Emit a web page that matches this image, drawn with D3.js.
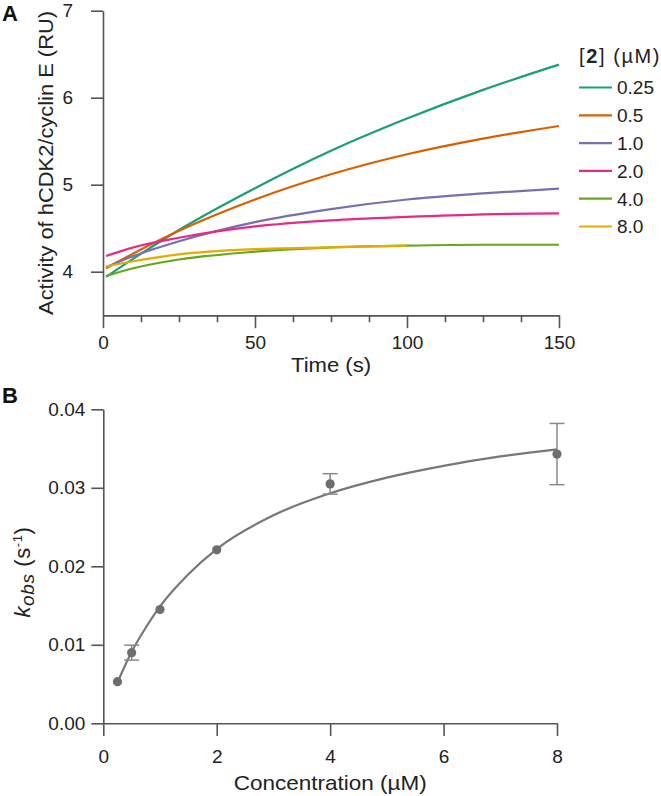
<!DOCTYPE html>
<html>
<head>
<meta charset="utf-8">
<script src="https://cdn.jsdelivr.net/npm/d3@7"></script>
<style>
  body { margin: 0; background: #fff; }
  svg { font-family: "Liberation Sans", Arial, Helvetica, sans-serif; }
  .axis path, .axis line { stroke: #555; stroke-width: 1.6; }
  .axis text { fill: #222; font-size: 19px; }
</style>
</head>
<body>
<div id="chart"></div>
<script>
// ----------------------------------------------
// DATA
// ----------------------------------------------
// panel A: time courses for each [2]
const concLabels = ["0.25", "0.5", "1.0", "2.0", "4.0", "8.0"];
const seriesColors = ["#1b9e77", "#d95f02", "#7570b3", "#e7298a", "#66a61e", "#e6ab02"];
const timePoints = [1, 10, 25, 50, 75, 100, 125, 150];
const act025 = [3.94, 4.15, 4.48, 4.96, 5.39, 5.76, 6.09, 6.38];
const act05 = [4.04, 4.21, 4.47, 4.83, 5.12, 5.35, 5.53, 5.675];
const act1 = [4.05, 4.18, 4.35, 4.57, 4.72, 4.83, 4.90, 4.955];
const act2 = [4.18, 4.28, 4.39, 4.52, 4.59, 4.63, 4.66, 4.67];
const act4 = [3.95, 4.04, 4.14, 4.23, 4.28, 4.30, 4.31, 4.31];
const act8 = [4.06, 4.12, 4.20, 4.26, 4.28, 4.30]; // stops at t = 100
const timeTicks = [0, 50, 100, 150];
const timeMinorTicks = [12.5, 25, 37.5, 62.5, 75, 87.5, 112.5, 125, 137.5];
const activityTicks = [4, 5, 6, 7];

// panel B: kobs vs concentration
const concPoints = [0.25, 0.5, 1, 2, 4, 8];
const kobsValues = [0.0053, 0.0090, 0.0145, 0.0221, 0.0305, 0.0343];
const kobsErrors = [0, 0.00095, 0, 0, 0.0013, 0.0039];
const fitConc = [0.25, 0.5, 0.75, 1, 1.5, 2, 3, 4, 5, 6, 7, 8];
const fitKobs = [0.0052, 0.0091, 0.0122, 0.0149, 0.0190, 0.0222, 0.0265, 0.0293, 0.0313, 0.0328, 0.0340, 0.0349];
const concTicks = [0, 2, 4, 6, 8];
const kobsTicks = [0, 0.01, 0.02, 0.03, 0.04];

// ----------------------------------------------
// SVG
// ----------------------------------------------
const svg = d3.select("#chart").append("svg")
  .attr("width", 661)
  .attr("height", 796);

// ----------------------------------------------
// PANEL A
// ----------------------------------------------
const xA = d3.scaleLinear().domain([0, 150]).range([103, 559]);
const yA = d3.scaleLinear().domain([3.5, 7]).range([315.2, 10.7]);

svg.append("g").attr("class", "axis")
  .attr("transform", `translate(0,${yA(3.5)})`)
  .call(d3.axisBottom(xA).tickValues(timeMinorTicks).tickSize(7).tickSizeOuter(0).tickFormat(""));

svg.append("g").attr("class", "axis")
  .attr("transform", `translate(0,${yA(3.5)})`)
  .call(d3.axisBottom(xA).tickValues(timeTicks).tickSize(13).tickSizeOuter(0).tickPadding(7).tickFormat(d3.format("d")));

svg.append("g").attr("class", "axis")
  .attr("transform", `translate(${xA(0)},0)`)
  .call(d3.axisLeft(yA).tickValues(activityTicks).tickSize(12).tickSizeOuter(0).tickPadding(18).tickFormat(d3.format("d")));

const seriesA = [act025, act05, act1, act2, act4, act8];
const lineA = d3.line()
  .x((d, i) => xA(timePoints[i]))
  .y(d => yA(d))
  .curve(d3.curveMonotoneX);

svg.append("g").selectAll("path")
  .data(seriesA)
  .enter()
  .append("path")
  .attr("d", d => lineA(d))
  .attr("fill", "none")
  .attr("stroke", (d, i) => seriesColors[i])
  .attr("stroke-width", 2.2);

svg.append("text")
  .attr("x", 2).attr("y", 21)
  .attr("font-size", 22).attr("font-weight", "bold").attr("fill", "#111")
  .text("A");

svg.append("text")
  .attr("x", xA(75)).attr("y", 372)
  .attr("text-anchor", "middle").attr("font-size", 20).attr("fill", "#222")
  .attr("textLength", 80).attr("lengthAdjust", "spacingAndGlyphs")
  .text("Time (s)");

svg.append("text")
  .attr("transform", `translate(53,${(yA(3.5) + yA(7)) / 2}) rotate(-90)`)
  .attr("text-anchor", "middle").attr("font-size", 20).attr("fill", "#222")
  .attr("textLength", 304).attr("lengthAdjust", "spacingAndGlyphs")
  .text("Activity of hCDK2/cyclin E (RU)");

// legend
const legend = svg.append("g").attr("transform", "translate(579,0)");
const legendTitle = legend.append("text")
  .attr("x", 0).attr("y", 63)
  .attr("font-size", 20).attr("fill", "#222")
  .attr("letter-spacing", 1.6);
legendTitle.append("tspan").text("[");
legendTitle.append("tspan").attr("font-weight", "bold").text("2");
legendTitle.append("tspan").text("] (µM)");

const legendRows = legend.selectAll("g.row")
  .data(concLabels)
  .enter()
  .append("g")
  .attr("class", "row")
  .attr("transform", (d, i) => `translate(0,${87.5 + i * 27.8})`);

legendRows.append("line")
  .attr("x1", 0).attr("x2", 33)
  .attr("stroke", (d, i) => seriesColors[i])
  .attr("stroke-width", 2.2);

legendRows.append("text")
  .attr("x", 38).attr("y", 6.8)
  .attr("font-size", 19).attr("fill", "#222")
  .text(d => d);

// ----------------------------------------------
// PANEL B
// ----------------------------------------------
const xB = d3.scaleLinear().domain([0, 8]).range([103.3, 557]);
const yB = d3.scaleLinear().domain([0, 0.04]).range([723.3, 409.3]);

svg.append("g").attr("class", "axis")
  .attr("transform", `translate(0,${yB(0)})`)
  .call(d3.axisBottom(xB).tickValues(concTicks).tickSize(12.7).tickSizeOuter(0).tickPadding(14).tickFormat(d3.format("d")));

svg.append("g").attr("class", "axis")
  .attr("transform", `translate(${xB(0)},0)`)
  .call(d3.axisLeft(yB).tickValues(kobsTicks).tickSize(12).tickSizeOuter(0).tickPadding(6).tickFormat(d3.format(".2f")));

const fitLine = d3.line()
  .x((d, i) => xB(fitConc[i]))
  .y(d => yB(d))
  .curve(d3.curveMonotoneX);

svg.append("path")
  .attr("d", fitLine(fitKobs))
  .attr("fill", "none")
  .attr("stroke", "#777")
  .attr("stroke-width", 2.2);

// error bars (only where visible)
const errG = svg.append("g").attr("stroke", "#8a8a8a").attr("stroke-width", 1.5);
concPoints.forEach((c, i) => {
  const e = kobsErrors[i];
  if (!e) return;
  const cx = xB(c);
  const top = yB(kobsValues[i] + e);
  const bot = yB(kobsValues[i] - e);
  errG.append("line").attr("x1", cx).attr("x2", cx).attr("y1", top).attr("y2", bot);
  errG.append("line").attr("x1", cx - 7.5).attr("x2", cx + 7.5).attr("y1", top).attr("y2", top);
  errG.append("line").attr("x1", cx - 7.5).attr("x2", cx + 7.5).attr("y1", bot).attr("y2", bot);
});

svg.append("g").selectAll("circle")
  .data(kobsValues)
  .enter()
  .append("circle")
  .attr("cx", (d, i) => xB(concPoints[i]))
  .attr("cy", d => yB(d))
  .attr("r", 4.6)
  .attr("fill", "#6e6e6e");

svg.append("text")
  .attr("x", 2).attr("y", 403)
  .attr("font-size", 22).attr("font-weight", "bold").attr("fill", "#111")
  .text("B");

svg.append("text")
  .attr("x", xB(4)).attr("y", 790)
  .attr("text-anchor", "middle").attr("font-size", 21).attr("fill", "#222")
  .attr("textLength", 193).attr("lengthAdjust", "spacingAndGlyphs")
  .text("Concentration (µM)");

const yTitleB = svg.append("text")
  .attr("transform", `translate(30,572) rotate(-90)`)
  .attr("text-anchor", "middle").attr("font-size", 22).attr("fill", "#222")
  .attr("letter-spacing", 0.6);
yTitleB.append("tspan").attr("font-style", "italic").text("k");
yTitleB.append("tspan").attr("font-style", "italic").attr("font-size", 19).attr("dy", 4).text("obs");
yTitleB.append("tspan").attr("dy", -4).text(" (s");
yTitleB.append("tspan").attr("font-size", 13).attr("dy", -8).text("-1");
yTitleB.append("tspan").attr("dy", 8).text(")");
</script>
</body>
</html>
